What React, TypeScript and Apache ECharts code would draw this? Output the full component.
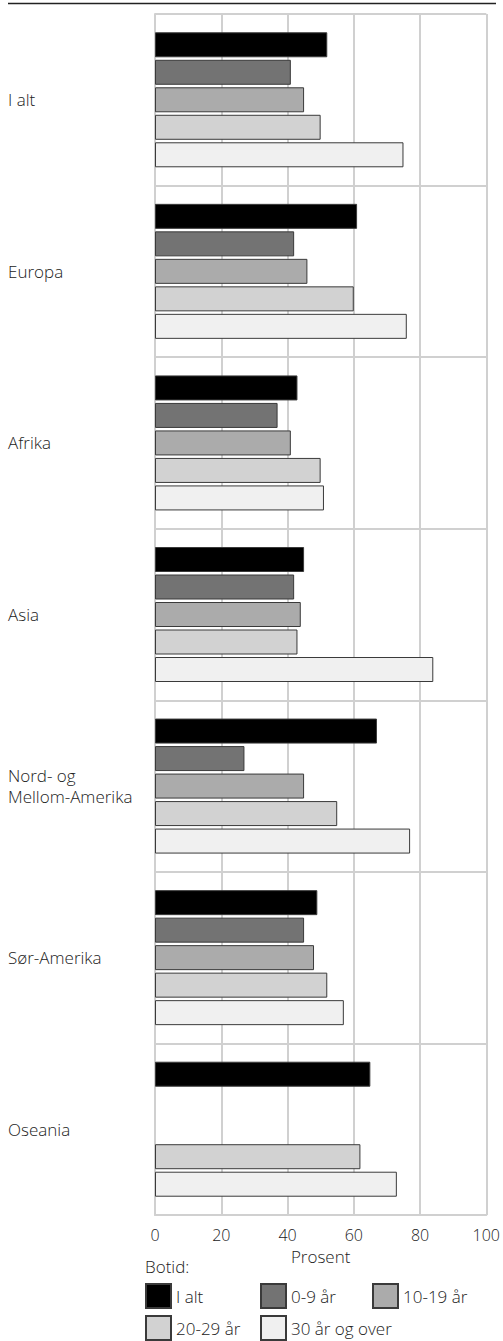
import React, { useEffect, useRef } from "react";
import * as echarts from "echarts";

const categories = ["I alt", "Europa", "Afrika", "Asia", "Nord- og\nMellom-Amerika", "Sør-Amerika", "Oseania"];
const seriesNames = ["I alt", "0-9 år", "10-19 år", "20-29 år", "30 år og over"];
const seriesColors = ["#000000", "#737373", "#ababab", "#d2d2d2", "#f0f0f0"];
const iAlt = [52, 61, 43, 45, 67, 49, 65];
const aar0_9 = [41, 42, 37, 42, 27, 45, null];
const aar10_19 = [45, 46, 41, 44, 45, 48, null];
const aar20_29 = [50, 60, 50, 43, 55, 52, 62];
const aar30pluss = [75, 76, 51, 84, 77, 57, 73];
const seriesData = [iAlt, aar0_9, aar10_19, aar20_29, aar30pluss];
const xTicks = [0, 20, 40, 60, 80, 100];

const FONT = "'Open Sans', 'Noto Sans', sans-serif";
const TEXT = "#222222";
const GRID = "#d0d0d0";
const legendPos = [
  [145, 1283],
  [260, 1283],
  [372, 1283],
  [145, 1315],
  [260, 1315],
];

export default function App() {
  const ref = useRef<HTMLDivElement>(null);
  useEffect(() => {
    if (!ref.current) return;
    const chart = echarts.init(ref.current, null, { renderer: "svg" });
    chart.setOption({
      animation: false,
      textStyle: { fontFamily: FONT },
      grid: { left: 155, right: 15, top: 14, bottom: 126, show: false },
      xAxis: {
        type: "value",
        min: xTicks[0],
        max: xTicks[xTicks.length - 1],
        interval: 20,
        name: "Prosent",
        nameLocation: "middle",
        nameGap: 27,
        nameTextStyle: { fontSize: 17, color: TEXT, fontFamily: FONT, fontWeight: 300 },
        axisLine: { show: true, lineStyle: { color: GRID, width: 2 } },
        axisTick: { show: false },
        axisLabel: { fontSize: 16, color: TEXT, margin: 12, fontFamily: FONT, fontWeight: 300 },
        splitLine: { show: true, lineStyle: { color: GRID, width: 2 } },
      },
      yAxis: {
        type: "category",
        data: categories,
        inverse: true,
        axisLine: { show: true, lineStyle: { color: GRID, width: 2 } },
        axisTick: { show: false },
        axisLabel: { align: "left", margin: 147, fontSize: 17, color: TEXT, lineHeight: 21, fontFamily: FONT, fontWeight: 300 },
        splitLine: { show: true, lineStyle: { color: GRID, width: 2 } },
      },
      legend: seriesNames.map((name, i) => ({
        left: legendPos[i][0],
        top: legendPos[i][1],
        padding: 0,
        itemWidth: 25,
        itemHeight: 24,
        icon: "rect",
        data: [name],
        selectedMode: false,
        textStyle: { fontSize: 17, color: TEXT, fontFamily: FONT, fontWeight: 300 },
      })),
      graphic: [
        { type: "line", shape: { x1: 8, y1: 3.5, x2: 496, y2: 3.5 }, style: { stroke: "#222", lineWidth: 1.5 } },
        { type: "text", left: 145, top: 1258, style: { text: "Botid:", fontSize: 17, fill: TEXT, fontFamily: FONT, fontWeight: 300 } },
      ],
      series: seriesNames.map((name, i) => ({
        name,
        type: "bar",
        data: seriesData[i],
        barWidth: 25,
        barGap: "10%",
        itemStyle: { color: seriesColors[i], borderColor: "#3a3a3a", borderWidth: 1 },
      })),
    });
    return () => chart.dispose();
  }, []);
  return <div ref={ref} style={{ position: "absolute", left: 0, top: 0, width: 503, height: 1341 }} />;
}
